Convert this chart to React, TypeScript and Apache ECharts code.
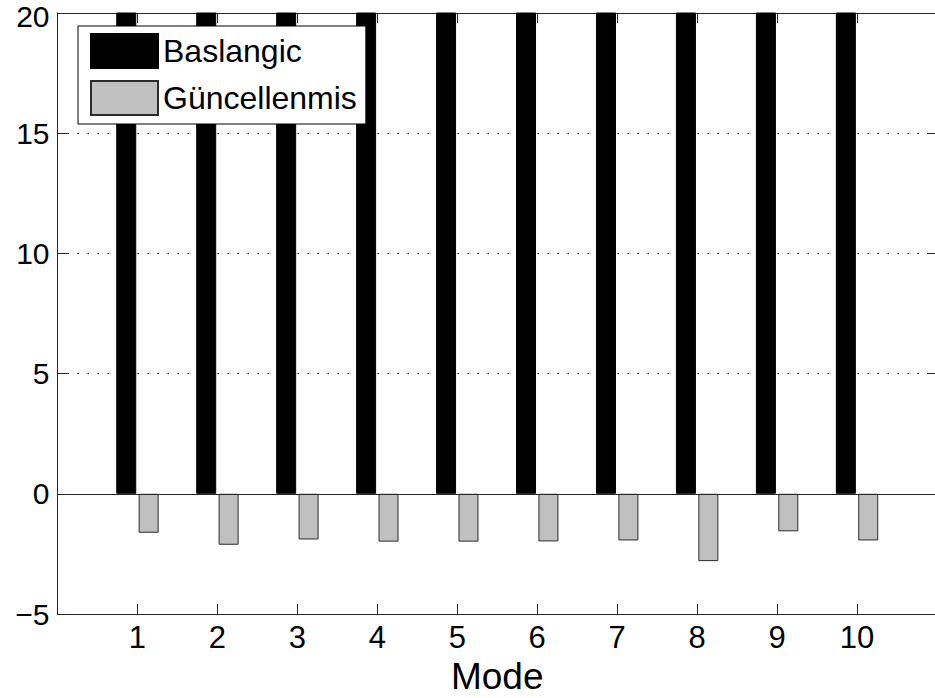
import React, { useEffect, useRef } from "react";
import * as echarts from "echarts";

// Mode numbers on the x axis
const modes = [1, 2, 3, 4, 5, 6, 7, 8, 9, 10];
// Initial values (all run past the top of the axis at 20)
const baslangic = [34, 31, 36, 33, 38, 35, 37, 39, 33, 36];
// Updated values
const guncellenmis = [-1.62, -2.12, -1.9, -1.99, -1.99, -1.98, -1.94, -2.8, -1.56, -1.94];
// Y axis tick values
const yTicks = [-5, 0, 5, 10, 15, 20];

const FONT = "'Liberation Sans', Arial, Helvetica, sans-serif";
const AXIS_COLOR = "#262626";

// The plot box runs slightly past the right edge of the window, so the
// chart surface is a little wider than the visible page.
const CHART_W = 941;
const CHART_H = 698;

export default function App() {
  const ref = useRef<HTMLDivElement>(null);

  useEffect(() => {
    if (!ref.current) return;
    const chart = echarts.init(ref.current, undefined, { renderer: "svg" });

    const yMax = yTicks[yTicks.length - 1];
    const fmtY = (v: number) => {
      const s = v < 0 ? "\u2212" + Math.abs(v) : String(v);
      // the top label is nudged down so it stays inside the page
      return v === yMax ? "{top|" + s + "}" : s;
    };

    chart.setOption({
      animation: false,
      backgroundColor: "#ffffff",
      textStyle: { fontFamily: FONT },
      grid: {
        left: 57.5,
        right: CHART_W - 937,
        top: 13,
        bottom: 84,
        containLabel: false,
        outerBoundsMode: "none",
      },
      legend: {
        orient: "vertical",
        left: 78,
        top: 26,
        padding: [7, 9, 8, 12],
        itemWidth: 67,
        itemHeight: 34,
        itemGap: 11,
        borderColor: "#000",
        borderWidth: 1,
        backgroundColor: "#fff",
        icon: "rect",
        textStyle: { fontFamily: FONT, fontSize: 32, color: "#000", width: 212, padding: [0, 0, 0, 0] },
        data: ["Baslangic", "Güncellenmis"],
      },
      xAxis: [
        {
          type: "value",
          position: "bottom",
          min: 0,
          max: 11,
          interval: 1,
          name: "Mode",
          nameLocation: "middle",
          nameGap: 39,
          nameTextStyle: { fontFamily: FONT, fontSize: 37, color: "#000" },
          axisLine: { onZero: false, lineStyle: { color: AXIS_COLOR, width: 1 } },
          axisTick: { inside: true, length: 10, lineStyle: { color: AXIS_COLOR } },
          axisLabel: {
            fontFamily: FONT,
            fontSize: 31,
            color: "#000",
            margin: 8,
            formatter: (v: number) => (modes.includes(v) ? String(v) : ""),
          },
          splitLine: { show: false },
        },
        {
          type: "value",
          position: "top",
          min: 0,
          max: 11,
          interval: 1,
          axisLine: { onZero: false, lineStyle: { color: AXIS_COLOR, width: 1 } },
          axisTick: { inside: true, length: 10, lineStyle: { color: AXIS_COLOR } },
          axisLabel: { show: false },
          splitLine: { show: false },
        },
      ],
      yAxis: [
        {
          type: "value",
          position: "left",
          min: yTicks[0],
          max: yMax,
          interval: 5,
          axisLine: { show: true, onZero: false, lineStyle: { color: AXIS_COLOR, width: 1 } },
          axisTick: { show: true, inside: true, length: 10, lineStyle: { color: AXIS_COLOR } },
          axisLabel: {
            fontFamily: FONT,
            fontSize: 30,
            lineHeight: 24,
            color: "#000",
            margin: 8,
            formatter: fmtY,
            rich: {
              top: { fontFamily: FONT, fontSize: 30, lineHeight: 20, color: "#000", padding: [6, 0, 0, 0] },
            },
          },
          splitLine: { show: true, lineStyle: { color: "#000", type: [1.5, 8.5], width: 1 } },
        },
        {
          type: "value",
          position: "right",
          min: yTicks[0],
          max: yMax,
          interval: 5,
          axisLine: { show: true, onZero: false, lineStyle: { color: AXIS_COLOR, width: 1 } },
          axisTick: { show: true, inside: true, length: 10, lineStyle: { color: AXIS_COLOR } },
          axisLabel: { show: false },
          splitLine: { show: false },
        },
      ],
      series: [
        {
          name: "Baslangic",
          type: "bar",
          xAxisIndex: 0,
          yAxisIndex: 0,
          barWidth: 20,
          barGap: "12%",
          clip: true,
          itemStyle: { color: "#000", borderColor: "#000", borderWidth: 1 },
          data: modes.map((m, i) => [m, baslangic[i]]),
        },
        {
          name: "Güncellenmis",
          type: "bar",
          xAxisIndex: 0,
          yAxisIndex: 0,
          barWidth: 20,
          barGap: "12%",
          clip: true,
          itemStyle: { color: "#c0c0c0", borderColor: "#2b2b2b", borderWidth: 1 },
          data: modes.map((m, i) => [m, guncellenmis[i]]),
          markLine: {
            silent: true,
            symbol: "none",
            label: { show: false },
            lineStyle: { color: AXIS_COLOR, type: "solid", width: 1 },
            data: [{ yAxis: 0 }],
          },
        },
      ],
    });

    return () => chart.dispose();
  }, []);

  return (
    <div style={{ position: "fixed", left: 0, top: 0, width: 935, height: CHART_H, overflow: "hidden", background: "#fff" }}>
      <div ref={ref} style={{ width: CHART_W, height: CHART_H }} />
    </div>
  );
}
